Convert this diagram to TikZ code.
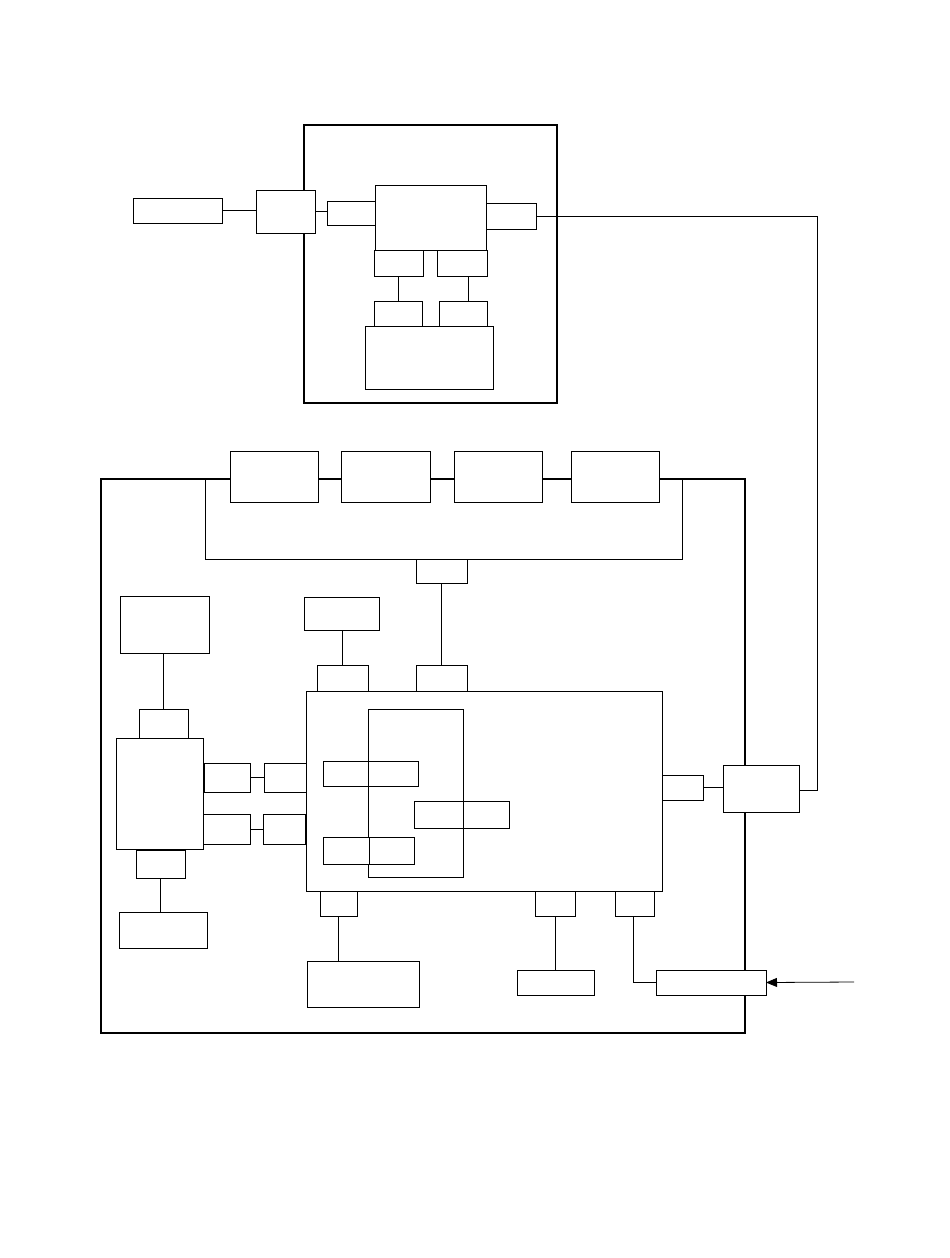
\documentclass[tikz,border=0pt]{standalone}
\usepackage{tikz}
\usetikzlibrary{arrows.meta}

\tikzset{
  blk/.style={draw,fill=white,line width=1pt,inner sep=0pt,outer sep=0pt},
  wire/.style={line width=0.8pt},
  frame/.style={line width=2.8pt}
}
% block from its corners (x1,y1) to (x2,y2), in pixels
\newcommand{\blk}[5]{\node[blk,minimum width={(#4-#2)*1pt},minimum height={(#5-#3)*1pt}] (#1) at ({(#2+#4)/2},{(#3+#5)/2}) {};}

\begin{document}
\begin{tikzpicture}[x=1pt,y=-1pt]
    \useasboundingbox (0,0) rectangle (950,1258);

    % the two frames
    \draw[frame] (304,125) rectangle (557,403);
    \draw[frame] (101,479) rectangle (745,1033);

    % upper unit
    \blk{ext}{133}{198}{222}{223}
    \blk{iface}{256}{190}{315}{233}
    \blk{pin}{327}{201}{375}{225}
    \blk{cpu}{375}{185}{486}{250}
    \blk{pout}{486}{203}{536}{229}
    \blk{ma}{374}{250}{423}{276}
    \blk{mb}{437}{250}{487}{276}
    \blk{mem}{365}{326}{493}{389}
    \blk{na}{374}{301}{422}{326}
    \blk{nb}{439}{301}{487}{326}
    \coordinate (mbx) at (468,276);

    \draw[wire] (ext.east) -- (ext.east -| iface.west);
    \draw[wire] (iface.east) -- (iface.east -| pin.west);
    \draw[wire] (ma.south) -- (ma.south |- na.north);
    \draw[wire] (mbx) -- (mbx |- nb.north);

    % bus along the top of the lower unit
    \blk{busa}{230}{451}{318}{502}
    \blk{busb}{341}{451}{430}{502}
    \blk{busc}{454}{451}{542}{502}
    \blk{busd}{571}{451}{659}{502}
    \coordinate (hubl) at (205,559);
    \coordinate (hubr) at (682,559);
    \draw[wire] (205,479) -- (hubl) -- (hubr) -- (682,479);
    \blk{hub}{416}{559}{467}{583}

    % left side
    \blk{lcd}{120}{596}{209}{653}
    \blk{cola}{139}{709}{188}{738}
    \blk{lbig}{116}{738}{203}{849}
    \blk{colb}{136}{850}{185}{878}
    \blk{kbd}{119}{912}{207}{948}
    \blk{ua}{204}{763}{250}{792}
    \blk{ub}{264}{763}{306}{792}
    \blk{la}{203}{814}{250}{844}
    \blk{lb}{263}{814}{305}{844}

    \draw[wire] (cola.north) -- (cola.north |- lcd.south);
    \draw[wire] (colb.south) -- (colb.south |- kbd.north);
    \draw[wire] (ua.east) -- (ub.west);
    \draw[wire] (la.east) -- (lb.west);

    % main board
    \blk{main}{306}{691}{662}{891}
    \blk{core}{368}{709}{463}{877}
    \blk{ra}{323}{761}{368}{786}
    \blk{rb}{368}{761}{418}{786}
    \blk{sa}{414}{801}{463}{828}
    \blk{sb}{463}{801}{509}{828}
    \blk{ta}{323}{837}{369}{864}
    \blk{tb}{369}{837}{414}{864}

    \blk{mid}{304}{597}{379}{630}
    \blk{pa}{317}{665}{368}{691}
    \blk{pb}{416}{665}{467}{691}
    \draw[wire] (mid.south -| pa.north) -- (pa.north);
    \draw[wire] (hub.south) -- (pb.north);

    % right side
    \blk{rp}{662}{775}{703}{800}
    \blk{sw}{723}{765}{799}{812}
    \coordinate (up) at (817,790);
    \draw[wire] (rp.east) -- (rp.east -| sw.west);
    \draw[wire] (sw.east |- up) -- (up) -- (up |- pout.east) -- (pout.east);

    % bottom ports
    \blk{qa}{320}{891}{357}{916}
    \blk{qb}{535}{891}{575}{916}
    \blk{qc}{615}{891}{654}{916}
    \blk{disk}{307}{961}{419}{1007}
    \blk{sm}{517}{970}{594}{995}
    \blk{inp}{656}{970}{766}{995}
    \coordinate (feed) at (854,982);

    \draw[wire] (qa.south) -- (qa.south |- disk.north);
    \draw[wire] (qb.south) -- (qb.south |- sm.north);
    \draw[wire] (633,916) |- (inp.west);
    \draw[wire,-{Triangle[length=11pt,width=9pt]}] (feed) -- (inp.east);
\end{tikzpicture}
\end{document}
